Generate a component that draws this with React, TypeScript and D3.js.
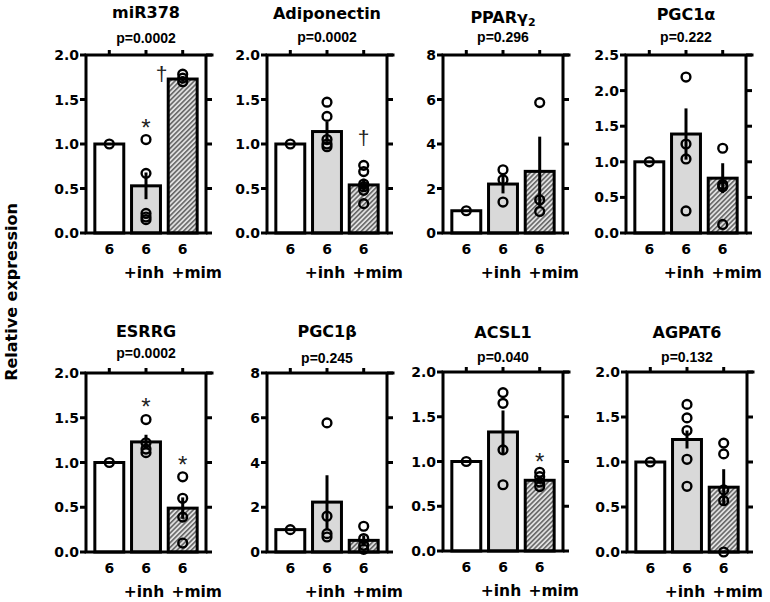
import React from "react";
import * as d3 from "d3";

// ---------- data ----------
const groups = ["ctrl", "inh", "mim"];
const groupLine1 = ["6", "6", "6"];
const groupLine2 = ["", "+inh", "+mim"];

const titles = ["miR378", "Adiponectin", "PPARγ|2", "PGC1α", "ESRRG", "PGC1β", "ACSL1", "AGPAT6"];
const pValues = ["p=0.0002", "p=0.0002", "p=0.296", "p=0.222", "p=0.0002", "p=0.245", "p=0.040", "p=0.132"];
const yMaxes = [2, 2, 8, 2.5, 2, 8, 2, 2];
const ySteps = [0.5, 0.5, 2, 0.5, 0.5, 2, 0.5, 0.5];

const means = [
  [1.0, 0.53, 1.73],
  [1.0, 1.14, 0.54],
  [1.0, 2.2, 2.77],
  [1.0, 1.39, 0.77],
  [1.0, 1.23, 0.49],
  [1.0, 2.23, 0.52],
  [1.0, 1.33, 0.79],
  [1.0, 1.25, 0.72],
];
const sems = [
  [0, 0.15, 0.03],
  [0, 0.11, 0.07],
  [0, 0.42, 1.56],
  [0, 0.36, 0.21],
  [0, 0.08, 0.12],
  [0, 1.2, 0.22],
  [0, 0.24, 0.04],
  [0, 0.1, 0.2],
];
const points = [
  [[1.0], [1.05, 0.67, 0.22, 0.18, 0.15], [1.785, 1.7, 1.74]],
  [[1.0], [1.47, 1.31, 1.05, 1.0, 0.97], [0.76, 0.69, 0.55, 0.52, 0.48, 0.33]],
  [[1.0], [2.84, 2.39, 1.39], [5.86, 1.49, 0.97]],
  [[1.0], [2.19, 1.25, 1.04, 0.31], [1.19, 0.68, 0.65, 0.12]],
  [[1.0], [1.48, 1.22, 1.15, 1.11], [0.84, 0.6, 0.39, 0.1]],
  [[1.0], [5.77, 1.6, 0.82, 0.67], [1.15, 0.6, 0.3, 0.12]],
  [[1.0], [1.77, 1.65, 1.13, 0.74], [0.88, 0.83, 0.77, 0.72]],
  [[1.0], [1.64, 1.49, 1.35, 1.03, 0.73], [1.21, 1.09, 0.69, 0.57, 0.0]],
];
// significance marks: panel, group, symbol, value (vertical centre)
const markPanels = [0, 0, 1, 4, 4, 6];
const markGroups = [1, 2, 2, 1, 2, 2];
const markSymbols = ["*", "†", "†", "*", "*", "*"];
const markValues = [1.25, 1.78, 1.06, 1.69, 1.04, 1.07];

// ---------- layout ----------
const W = 770;
const H = 602;
const plotW = 120;
const panelLeft = [86, 267, 443, 626, 86, 267, 443, 627];
const panelTop = [55, 55, 55, 55, 373, 373, 372, 372];
const panelBottom = [233, 233, 233, 233, 552, 552, 551, 552];
const titleBase = [17.5, 18.5, 23, 20, 337, 336.5, 338, 338];
const pBase = [43, 42, 41.5, 42, 358, 363, 361.5, 361.5];
const markDx = [0, -21, 0, 0, 0, 0];

const BOLD = "'DejaVu Sans', sans-serif";
const ARIAL = "'Liberation Sans', Arial, sans-serif";
const LW = 3;

function Title({ text, x, y }: { text: string; x: number; y: number }) {
  const [main, sub] = text.split("|");
  return (
    <text x={x} y={y} textAnchor="middle" fontFamily={BOLD} fontWeight="bold" fontSize={16}>
      {main}
      {sub && (
        <tspan fontSize={11} dy={3}>
          {sub}
        </tspan>
      )}
    </text>
  );
}

function Panel({ i }: { i: number }) {
  const x0 = panelLeft[i];
  const yTop = panelTop[i];
  const yBot = panelBottom[i];
  const y = d3.scaleLinear().domain([0, yMaxes[i]]).range([yBot, yTop]);
  const x = d3
    .scaleBand<string>()
    .domain(groups)
    .range([x0, x0 + plotW])
    .paddingInner(0.13)
    .paddingOuter(0.2);
  const bw = x.bandwidth();
  const ticks = d3.range(0, yMaxes[i] + 1e-9, ySteps[i]);
  const fmt = ySteps[i] < 1 ? d3.format(".1f") : d3.format("d");
  const xr = x0 + plotW;
  const cx = (g: string) => (x(g) as number) + bw / 2;
  const fills = ["#ffffff", "#d9d9d9", "url(#hatch)"];

  return (
    <g>
      <Title text={titles[i]} x={x0 + plotW / 2} y={titleBase[i]} />
      <text x={x0 + plotW / 2} y={pBase[i]} textAnchor="middle" fontFamily={ARIAL} fontWeight="bold" fontSize={14}>
        {pValues[i]}
      </text>

      {/* bars */}
      {groups.map((g, gi) => (
        <rect
          key={g}
          x={(x(g) as number) + LW / 2}
          y={y(means[i][gi])}
          width={bw - LW}
          height={yBot - y(means[i][gi])}
          fill={fills[gi]}
          stroke="#000"
          strokeWidth={LW}
        />
      ))}

      {/* error bars */}
      {groups.map((g, gi) =>
        sems[i][gi] > 0 ? (
          <line
            key={"e" + g}
            x1={cx(g)}
            x2={cx(g)}
            y1={y(means[i][gi] - sems[i][gi])}
            y2={y(means[i][gi] + sems[i][gi])}
            stroke="#000"
            strokeWidth={LW}
          />
        ) : null
      )}

      {/* points */}
      {groups.map((g, gi) =>
        points[i][gi].map((v, k) => (
          <circle key={g + k} cx={cx(g)} cy={y(v)} r={4.4} fill="none" stroke="#000" strokeWidth={2.4} />
        ))
      )}

      {/* frame */}
      <path
        d={`M${x0},${yBot} L${x0},${yTop} L${xr + 6},${yTop} M${xr},${yTop} L${xr},${yBot} L${x0},${yBot}`}
        fill="none"
        stroke="#000"
        strokeWidth={LW}
        strokeLinecap="square"
      />
      {ticks.map((t) => (
        <g key={"t" + t}>
          <line x1={x0 - 6} x2={x0} y1={y(t)} y2={y(t)} stroke="#000" strokeWidth={LW} />
          <line x1={xr} x2={xr + 6} y1={y(t)} y2={y(t)} stroke="#000" strokeWidth={LW} />
          <text
            x={x0 - 7}
            y={y(t) + 5}
            textAnchor="end"
            fontFamily={BOLD}
            fontWeight="bold"
            fontSize={14}
          >
            {fmt(t)}
          </text>
        </g>
      ))}
      {groups.map((g) => (
        <line key={"tt" + g} x1={cx(g)} x2={cx(g)} y1={yTop} y2={yTop - 5} stroke="#000" strokeWidth={LW} />
      ))}

      {/* category labels */}
      {groups.map((g, gi) => (
        <text key={"c1" + g} x={cx(g)} y={yBot + 21} textAnchor="middle" fontFamily={BOLD} fontWeight="bold" fontSize={14}>
          {groupLine1[gi]}
        </text>
      ))}
      {groups.map((g, gi) =>
        groupLine2[gi] ? (
          <text
            key={"c2" + g}
            x={gi === 2 ? cx(g) + 14 : cx(g) - 2}
            y={yBot + 45}
            textAnchor="middle"
            fontFamily={BOLD}
            fontWeight="bold"
            fontSize={15.5}
          >
            {groupLine2[gi]}
          </text>
        ) : null
      )}

      {/* significance marks */}
      {markPanels.map((p, m) => {
        if (p !== i) return null;
        const g = groups[markGroups[m]];
        const yc = y(markValues[m]);
        const star = markSymbols[m] === "*";
        const fs = star ? 24 : 21;
        return (
          <text
            key={"m" + m}
            x={cx(g) + markDx[m]}
            y={yc + (star ? 0.6 : 0.3) * fs}
            textAnchor="middle"
            fontFamily={ARIAL}
            fontSize={fs}
            fill="#222"
          >
            {markSymbols[m]}
          </text>
        );
      })}
    </g>
  );
}

export default function App() {
  return (
    <svg
      width={W}
      height={H}
      viewBox={`0 0 ${W} ${H}`}
      style={{ position: "absolute", left: 0, top: 0, background: "#fff" }}
    >
      <defs>
        <pattern id="hatch" patternUnits="userSpaceOnUse" width={3.4} height={3.4} patternTransform="rotate(45)">
          <rect width={3.4} height={3.4} fill="#e0e0e0" />
          <line x1={0.8} y1={0} x2={0.8} y2={3.4} stroke="#4a4a4a" strokeWidth={1.3} />
        </pattern>
      </defs>
      <rect width={W} height={H} fill="#fff" />
      <text
        transform="translate(17,292) rotate(-90)"
        textAnchor="middle"
        fontFamily={BOLD}
        fontWeight="bold"
        fontSize={16}
      >
        Relative expression
      </text>
      {titles.map((_, i) => (
        <Panel key={i} i={i} />
      ))}
    </svg>
  );
}
